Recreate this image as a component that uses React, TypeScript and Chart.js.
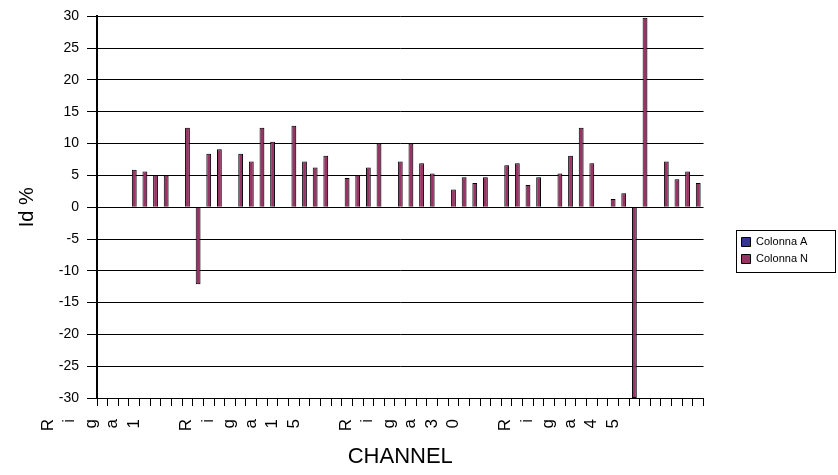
import React, { useEffect, useRef } from 'react';
import { Chart, registerables } from 'chart.js';

Chart.register(...registerables);

const FONT = '"Liberation Sans", Arial, Helvetica, sans-serif';

// Category labels (only a few are shown in the original chart)
const categories: string[] = [
  '', '', '', 'Riga1', '', '', '', '', '', '',
  '', '', '', '', '', '', '', '', 'Riga15', '',
  '', '', '', '', '', '', '', '', '', '',
  '', '', '', 'Riga30', '', '', '', '', '', '',
  '', '', '', '', '', '', '', '', 'Riga45', '',
  '', '', '', '', '', '', '',
];

// Series
const colonnaA: (number | null)[] = [];
const colonnaN: (number | null)[] = [
  null, null, null, 5.9, 5.6, 5.0, 5.0, null, 12.5, -12.1,
  8.4, 9.1, null, 8.4, 7.2, 12.5, 10.3, null, 12.8, 7.2,
  6.25, 8.1, null, 4.6, 5.0, 6.25, 10.0, null, 7.2, 10.0,
  6.9, 5.3, null, 2.8, 4.7, 3.8, 4.7, null, 6.6, 6.9,
  3.5, 4.7, null, 5.3, 8.1, 12.5, 6.9, null, 1.3, 2.2,
  -30, 29.8, null, 7.2, 4.4, 5.6, 3.8,
];

const seriesNames = ['Colonna A', 'Colonna N'];
const seriesColors = ['#333399', '#993366'];

const Y_MIN = -30;
const Y_MAX = 30;
const Y_STEP = 5;

const LABEL_LINE = 21.5;

const xStackedLabels = {
  id: 'xStackedLabels',
  afterDraw(chart: any) {
    const scale = chart.scales.x;
    const ctx = chart.ctx;
    ctx.save();
    ctx.font = `17px ${FONT}`;
    ctx.fillStyle = '#000';
    ctx.textAlign = 'right';
    ctx.textBaseline = 'middle';
    categories.forEach((label, i) => {
      if (!label) return;
      const px = scale.getPixelForValue(i);
      const chars = label.split('');
      const n = chars.length;
      chars.forEach((ch, j) => {
        const x = px - (n - 1 - j) * LABEL_LINE;
        ctx.save();
        ctx.translate(x, scale.top + 21);
        ctx.rotate(-Math.PI / 2);
        ctx.fillText(ch, 0, 0);
        ctx.restore();
      });
    });
    ctx.restore();
  },
};

const legendBorder = {
  id: 'legendBorder',
  afterDraw(chart: any) {
    const lg = chart.legend;
    if (!lg || !lg.legendHitBoxes || !lg.legendHitBoxes.length) return;
    const hb = lg.legendHitBoxes;
    const top = Math.min(...hb.map((h: any) => h.top)) - 7;
    const bottom = Math.max(...hb.map((h: any) => h.top + h.height)) + 7;
    const left = Math.round(lg.left) + 0.5;
    const right = chart.width - 2.5;
    const ctx = chart.ctx;
    ctx.save();
    ctx.strokeStyle = '#000';
    ctx.lineWidth = 1;
    ctx.strokeRect(left, Math.round(top) + 0.5, right - left, Math.round(bottom - top));
    ctx.restore();
  },
};

const barShadow = {
  id: 'barShadow',
  beforeDatasetDraw(chart: any) {
    const ctx = chart.ctx;
    ctx.save();
    ctx.shadowColor = 'rgba(0,0,0,0.18)';
    ctx.shadowOffsetX = 2;
    ctx.shadowOffsetY = 0;
    ctx.shadowBlur = 0;
  },
  afterDatasetDraw(chart: any) {
    chart.ctx.restore();
  },
};

export default function App() {
  const ref = useRef<HTMLCanvasElement>(null);

  useEffect(() => {
    document.body.style.margin = '0';
    const chart = new Chart(ref.current!, {
      type: 'bar',
      data: {
        labels: categories,
        datasets: [
          {
            label: seriesNames[0],
            data: colonnaA,
            backgroundColor: seriesColors[0],
            borderColor: '#000',
            borderWidth: 1,
            skipNull: true,
            categoryPercentage: 0.45,
            barPercentage: 1,
          },
          {
            label: seriesNames[1],
            data: colonnaN,
            backgroundColor: seriesColors[1],
            borderColor: '#000',
            borderWidth: 1,
            skipNull: true,
            categoryPercentage: 0.45,
            barPercentage: 1,
          },
        ],
      } as any,
      options: {
        animation: false,
        responsive: true,
        maintainAspectRatio: false,
        layout: { padding: { top: 14, right: 20, bottom: 0, left: 0 } },
        plugins: {
          tooltip: { enabled: false },
          legend: {
            display: true,
            position: 'right',
            align: 'center',
            title: { display: true, text: ' ', font: { size: 10 }, padding: 0 },
            labels: {
              boxWidth: 9,
              boxHeight: 9,
              padding: 6,
              color: '#000',
              font: { family: FONT, size: 11 },
            },
          },
        },
        scales: {
          x: {
            type: 'category',
            offset: true,
            grid: {
              display: true,
              drawOnChartArea: false,
              drawTicks: true,
              tickLength: 8,
              color: '#000',
              offset: true,
            },
            border: { display: true, color: '#000', width: 1 },
            ticks: { display: false, autoSkip: false },
            title: {
              display: true,
              text: 'CHANNEL',
              color: '#000',
              font: { family: FONT, size: 22 },
              padding: { top: 0, bottom: 5 },
            },
            afterFit: (s: any) => {
              s.height = 77;
            },
          },
          y: {
            min: Y_MIN,
            max: Y_MAX,
            ticks: {
              stepSize: Y_STEP,
              color: '#000',
              padding: 8,
              font: { family: FONT, size: 14 },
            },
            grid: { color: '#000', lineWidth: 1, tickLength: 10, tickColor: '#000' },
            border: { display: true, color: '#000', width: 2 },
            title: {
              display: true,
              text: 'Id %',
              color: '#000',
              font: { family: FONT, size: 20 },
              padding: { top: 15, bottom: 0 },
            },
            afterFit: (s: any) => {
              s.width = 97;
            },
          },
          gap: {
            type: 'linear',
            position: 'right',
            display: true,
            grid: { display: false },
            ticks: { display: false },
            border: { display: false },
            afterFit: (s: any) => {
              s.width = 32;
            },
          },
        },
      } as any,
      plugins: [barShadow, xStackedLabels, legendBorder],
    });
    return () => chart.destroy();
  }, []);

  return (
    <div style={{ width: 838, height: 475, position: 'relative' }}>
      <canvas ref={ref} />
    </div>
  );
}
